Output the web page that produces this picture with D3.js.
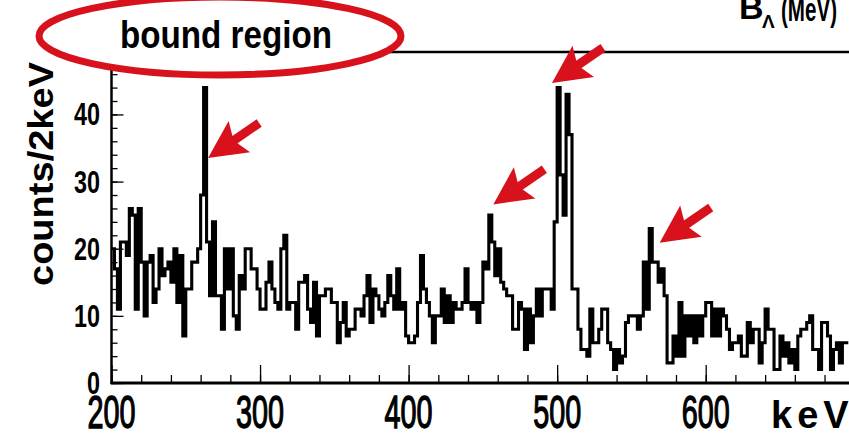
<!DOCTYPE html>
<html>
<head>
<meta charset="UTF-8">
<title>bound region spectrum</title>
<script src="https://d3js.org/d3.v7.min.js"></script>
<style>
body { margin: 0; background: #fff; }
svg { display: block; }
</style>
</head>
<body>
<svg id="chart" width="849" height="437"></svg>
<script>
// histogram: 2 keV bins starting at 200 keV
var binStart = 200;
var binWidth = 2;
var counts = [
 20,17,11,21,21,19,26,25,11,26,18,10,18,19,12,14,20,16,17,18,15,20,12,19,7,14,14,18,18,20,28,44,21,13,24,13,13,8,20,14,
 20,10,8,16,14,20,20,17,17,14,11,11,15,18,14,12,11,20,22,11,12,12,8,15,15,16,11,9,15,7,13,13,14,14,12,12,6,9,12,7,8,
 8,11,11,10,13,16,9,14,13,11,10,12,16,13,11,17,11,12,7,6,6,7,12,19,14,12,10,6,10,10,14,9,13,9,12,11,11,12,17,12,11,12,
 9,12,18,17,25,21,16,20,15,14,13,13,8,8,12,11,5,11,6,10,14,10,14,14,14,11,24,44,31,25,43,37,14,14,8,5,5,4,11,6,6,
 8,11,11,6,5,2,5,3,4,9,10,10,10,8,10,18,11,23,18,18,15,17,13,3,3,7,4,12,4,10,7,10,6,10,7,10,12,12,7,11,7,11,
 10,8,5,6,6,7,4,4,9,6,8,8,3,6,11,8,8,2,2,7,4,6,3,5,2,7,8,8,9,10,5,5,2,9,9,7,2,5,6,3,6,6
];
var xMajor = [200, 300, 400, 500, 600];
var yMajor = [0, 10, 20, 30, 40];
// peaks marked with arrows [keV, counts at arrow tip]
var arrowPeaks = [[265, 33.5], [457, 26.6], [496.5, 44.7], [569, 20.9]];

var svg = d3.select("#chart");
var red = "#d8121c";
var font = "Liberation Sans, Arial, sans-serif";

var x = d3.scaleLinear().domain([200, 600]).range([111.5, 705.7]);
var y = d3.scaleLinear().domain([0, 49.3]).range([383, 52]);

// frame top + axes
svg.append("line").attr("x1", x(200)).attr("x2", 849).attr("y1", y(49.3)).attr("y2", y(49.3))
  .attr("stroke", "#000").attr("stroke-width", 2.5);

function thin(g){ g.select(".domain").remove(); g.selectAll("line").attr("stroke-width", 1.3); }

var xMinor = d3.range(200, 700, 20);
svg.append("g").attr("transform", "translate(0,383)")
  .call(d3.axisBottom(x).tickValues(xMinor).tickSize(-8).tickFormat("")).call(thin);
svg.append("g").attr("transform", "translate(0,383)")
  .call(d3.axisBottom(x).tickValues(xMajor).tickSize(-18).tickFormat("")).call(thin);

var yMinor = d3.range(0, 50, 2);
svg.append("g").attr("transform", "translate(" + x(200) + ",0)")
  .call(d3.axisLeft(y).tickValues(yMinor).tickSize(-6).tickFormat("")).call(thin);
svg.append("g").attr("transform", "translate(" + x(200) + ",0)")
  .call(d3.axisLeft(y).tickValues(yMajor).tickSize(-12).tickFormat("")).call(thin);

svg.append("line").attr("x1", x(200)).attr("x2", x(200)).attr("y1", y(49.3)).attr("y2", 384)
  .attr("stroke", "#000").attr("stroke-width", 2.5);
svg.append("line").attr("x1", x(200) - 1).attr("x2", 849).attr("y1", 383).attr("y2", 383)
  .attr("stroke", "#000").attr("stroke-width", 3);

// histogram as a step line
var pts = counts.map(function(c, i){ return [binStart + i * binWidth, c]; });
pts.push([binStart + counts.length * binWidth, counts[counts.length - 1]]);
var step = d3.line().x(function(d){ return x(d[0]); }).y(function(d){ return y(d[1]); })
  .curve(d3.curveStepAfter);
svg.append("path").datum(pts).attr("d", step)
  .attr("fill", "none").attr("stroke", "#000").attr("stroke-width", 3.1);

// tick labels
svg.selectAll(".xl").data(xMajor).enter().append("text")
  .attr("x", function(d){ return x(d); }).attr("y", 428)
  .attr("text-anchor", "middle").attr("font-family", font)
  .attr("font-size", 47).attr("stroke", "#000").attr("stroke-width", 1.4)
  .attr("textLength", 48).attr("lengthAdjust", "spacingAndGlyphs")
  .text(function(d){ return d; });
svg.selectAll(".yl").data(yMajor).enter().append("text")
  .attr("x", 100).attr("y", function(d){ return y(d) + 11; })
  .attr("text-anchor", "end").attr("font-family", font).attr("font-weight", "bold")
  .attr("font-size", 31)
  .attr("textLength", function(d){ return d === 0 ? 13 : 26; }).attr("lengthAdjust", "spacingAndGlyphs")
  .text(function(d){ return d; });

svg.append("text").attr("x", 771).attr("y", 428)
  .attr("font-family", font).attr("font-weight", "bold")
  .attr("font-size", 38).attr("letter-spacing", 5).text("keV");

svg.append("text").attr("transform", "translate(53,286) rotate(-90)")
  .attr("font-family", font).attr("font-weight", "bold")
  .attr("font-size", 35).attr("textLength", 224).attr("lengthAdjust", "spacingAndGlyphs")
  .text("counts/2keV");

// B_Lambda (MeV) title, cut by the top edge
svg.append("text").attr("x", 739).attr("y", 19)
  .attr("font-family", font).attr("font-weight", "bold").attr("font-size", 34).text("B");
svg.append("text").attr("x", 762).attr("y", 28)
  .attr("font-family", font).attr("font-weight", "bold").attr("font-size", 19).text("Λ");
svg.append("text").attr("x", 781).attr("y", 21)
  .attr("font-family", font).attr("font-weight", "bold").attr("font-size", 34)
  .attr("textLength", 56).attr("lengthAdjust", "spacingAndGlyphs").text("(MeV)");

// bound region ellipse
svg.append("ellipse").attr("cx", 220).attr("cy", 36).attr("rx", 181).attr("ry", 39)
  .attr("fill", "#fff").attr("stroke", red).attr("stroke-width", 7);
svg.append("text").attr("x", 226).attr("y", 48).attr("text-anchor", "middle")
  .attr("font-family", font).attr("font-weight", "bold")
  .attr("font-size", 38).attr("textLength", 212).attr("lengthAdjust", "spacingAndGlyphs")
  .text("bound region");

// arrows
var ang = Math.atan2(33, -48) * 180 / Math.PI + 180;
arrowPeaks.forEach(function(p){
  var tx = x(p[0]), ty = y(p[1]);
  var g = svg.append("g").attr("transform", "translate(" + tx + "," + ty + ") rotate(" + ang + ")");
  g.append("line").attr("x1", 25).attr("x2", 62).attr("y1", 0).attr("y2", 0)
    .attr("stroke", red).attr("stroke-width", 9);
  g.append("polygon").attr("points", "0,0 38,-19 31,0 38,19").attr("fill", red);
});
</script>
</body>
</html>
